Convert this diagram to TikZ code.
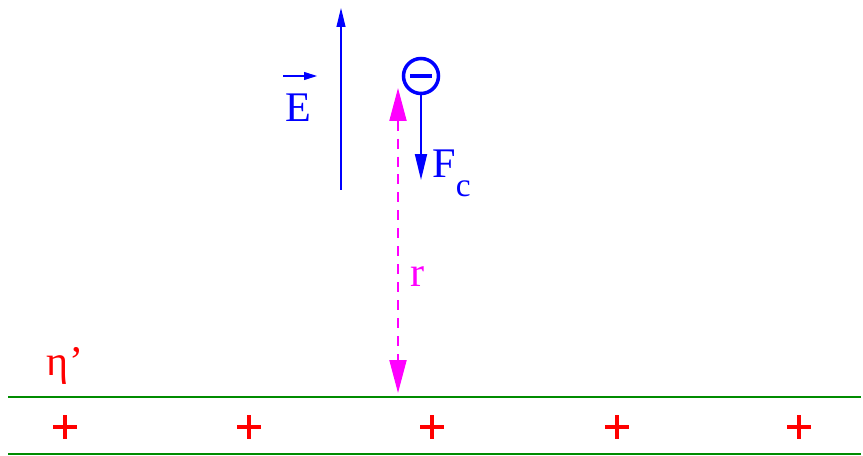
\documentclass[tikz,border=0pt]{standalone}
\usepackage{fontspec}
\setmainfont{Liberation Serif}
\usetikzlibrary{arrows.meta}
\definecolor{verde}{RGB}{0,140,0}
\definecolor{fucsia}{RGB}{255,0,255}
\begin{document}
\begin{tikzpicture}[x=0.02cm,y=-0.02cm,
    testo/.style={font=\fontsize{24}{24}\selectfont},
    piu/.style={red,line width=2.5pt}]
  \useasboundingbox (0,0) rectangle (863,456);
  % Lastra carica positivamente
  \draw[verde,line width=0.8pt] (8,397) -- (861,397);
  \draw[verde,line width=0.8pt] (8,454) -- (861,454);
  \foreach \x in {65,249,432,617,799}
    \draw[piu] (\x-12,427) -- (\x+12,427) (\x,415) -- (\x,439);
  \node[testo,red] (eta) at (65,366) {η’};
  % Linea di campo
  \coordinate (campo0) at (341,190);
  \coordinate (campo1) at (341,8);
  \draw[blue,line width=0.6pt,-{Triangle[length=0.38cm,width=0.18cm]}] (campo0) -- (campo1);
  \coordinate (vec0) at (283,76);
  \coordinate (vec1) at (317,76);
  \draw[blue,line width=0.6pt,-{Triangle[length=0.26cm,width=0.16cm]}] (vec0) -- (vec1);
  \node[testo,blue] (E) at (298,108) {E};
  % Elettrone e forza
  \node[draw=blue,circle,line width=2pt,minimum size=0.7cm,inner sep=0pt] (elettrone) at (421,76) {};
  \draw[blue,line width=2.3pt] ([xshift=-0.22cm]elettrone.center) -- ([xshift=0.22cm]elettrone.center);
  \coordinate (forza) at (421,180);
  \draw[blue,line width=1.1pt,-{Triangle[length=0.52cm,width=0.24cm]}] (elettrone.south) -- (forza);
  \node[testo,blue,anchor=base west,inner sep=0pt] (Fc) at (432,178) {F\raisebox{-0.38cm}{\fontsize{19}{19}\selectfont c}};
  % Distanza
  \coordinate (alto) at (398,88);
  \coordinate (basso) at (398,393);
  \draw[fucsia,line width=1.1pt,dash pattern=on 0.2cm off 0.16cm,
    {Triangle[length=0.66cm,width=0.34cm]}-{Triangle[length=0.66cm,width=0.34cm]}] (alto) -- (basso);
  \node[testo,fucsia] (r) at (418,277) {r};
\end{tikzpicture}
\end{document}
